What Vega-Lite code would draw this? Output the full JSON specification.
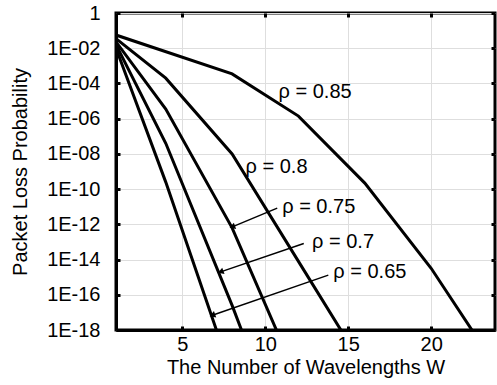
{
  "$schema": "https://vega.github.io/schema/vega-lite/v6.json",
  "width": 379,
  "height": 317,
  "autosize": {"type": "none"},
  "padding": {"left": 116, "top": 13, "right": 2, "bottom": 55},
  "background": "white",
  "config": {
    "view": {"stroke": "black", "strokeWidth": 3},
    "font": "Liberation Sans",
    "axis": {
      "labelFont": "Liberation Sans",
      "titleFont": "Liberation Sans",
      "labelFontSize": 20,
      "titleFontSize": 20,
      "titleFontWeight": "normal",
      "labelColor": "black",
      "titleColor": "black",
      "domainColor": "black",
      "domainWidth": 3,
      "tickColor": "black",
      "tickWidth": 3,
      "tickSize": -4,
      "gridColor": "#dedede",
      "gridWidth": 1
    }
  },
  "datasets": {
    "curves": [
      {"rho": "0.85", "W": 1, "P": 5.6e-2},
      {"rho": "0.85", "W": 8, "P": 3.5e-4},
      {"rho": "0.85", "W": 12, "P": 1.4e-6},
      {"rho": "0.85", "W": 16, "P": 2.2e-10},
      {"rho": "0.85", "W": 20, "P": 3.2e-15},
      {"rho": "0.85", "W": 24, "P": 6.3e-21},
      {"rho": "0.8", "W": 1, "P": 3.5e-2},
      {"rho": "0.8", "W": 4, "P": 2.0e-4},
      {"rho": "0.8", "W": 8, "P": 1.0e-8},
      {"rho": "0.8", "W": 12, "P": 7.9e-15},
      {"rho": "0.8", "W": 16, "P": 6.3e-21},
      {"rho": "0.75", "W": 1, "P": 2.3e-2},
      {"rho": "0.75", "W": 4, "P": 3.5e-6},
      {"rho": "0.75", "W": 8, "P": 6.3e-13},
      {"rho": "0.75", "W": 12, "P": 1.3e-21},
      {"rho": "0.7", "W": 1, "P": 1.6e-2},
      {"rho": "0.7", "W": 4, "P": 4.0e-8},
      {"rho": "0.7", "W": 8, "P": 2.5e-17},
      {"rho": "0.7", "W": 12, "P": 3.2e-27},
      {"rho": "0.65", "W": 1, "P": 1.0e-2},
      {"rho": "0.65", "W": 4, "P": 2.5e-10},
      {"rho": "0.65", "W": 8, "P": 2.5e-21}
    ],
    "labels": [
      {"label": "ρ = 0.85", "x": 10.8, "y": 3.2e-5},
      {"label": "ρ = 0.8", "x": 8.81, "y": 1.8e-9},
      {"label": "ρ = 0.75", "x": 11.02, "y": 1.0e-11},
      {"label": "ρ = 0.7", "x": 12.82, "y": 1.05e-13},
      {"label": "ρ = 0.65", "x": 14.1, "y": 2.0e-15}
    ],
    "arrows": [
      {"x1": 10.72, "y1": 8.3e-12, "x2": 8.01, "y2": 7.2e-13},
      {"x1": 12.32, "y1": 8.1e-14, "x2": 7.31, "y2": 2.0e-15},
      {"x1": 13.8, "y1": 1.3e-15, "x2": 6.81, "y2": 6.9e-18}
    ]
  },
  "layer": [
    {
      "data": {"name": "curves"},
      "mark": {"type": "line", "color": "black", "strokeWidth": 3, "clip": true},
      "encoding": {
        "x": {
          "field": "W", "type": "quantitative",
          "scale": {"domain": [1, 23.85], "nice": false, "zero": false},
          "axis": {"orient": "bottom", "values": [5, 10, 15, 20], "title": "The Number of Wavelengths W", "labelPadding": 8, "titlePadding": 3, "grid": true}
        },
        "y": {
          "field": "P", "type": "quantitative",
          "scale": {"type": "log", "domain": [1e-18, 1], "nice": false},
          "axis": {
            "orient": "left",
            "values": [1, 1e-2, 1e-4, 1e-6, 1e-8, 1e-10, 1e-12, 1e-14, 1e-16, 1e-18],
            "labelExpr": "datum.value >= 0.5 ? '1' : '1E-' + (round(-log(datum.value)/LN10) < 10 ? '0' : '') + round(-log(datum.value)/LN10)",
            "title": "Packet Loss Probability",
            "labelPadding": 20,
            "titlePadding": 16,
            "grid": true
          }
        },
        "detail": {"field": "rho"}
      }
    },
    {
      "data": {"name": "labels"},
      "mark": {"type": "text", "align": "left", "baseline": "middle", "fontSize": 20, "font": "Liberation Sans", "color": "black"},
      "encoding": {
        "x": {"field": "x", "type": "quantitative", "axis": null},
        "y": {"field": "y", "type": "quantitative", "axis": null},
        "text": {"field": "label"}
      }
    },
    {
      "data": {"name": "arrows"},
      "mark": {"type": "rule", "color": "black", "strokeWidth": 1.5},
      "encoding": {
        "x": {"field": "x1", "type": "quantitative", "axis": null},
        "y": {"field": "y1", "type": "quantitative", "axis": null},
        "x2": {"field": "x2"},
        "y2": {"field": "y2"}
      }
    },
    {
      "data": {"name": "arrows"},
      "mark": {"type": "point", "shape": "triangle-left", "filled": true, "color": "black", "size": 45, "angle": -20, "opacity": 1},
      "encoding": {
        "x": {"field": "x2", "type": "quantitative", "axis": {"orient": "top", "values": [5, 10, 15, 20], "labels": false, "title": null, "grid": false, "domain": false}},
        "y": {"field": "y2", "type": "quantitative", "axis": {"orient": "right", "values": [1, 1e-2, 1e-4, 1e-6, 1e-8, 1e-10, 1e-12, 1e-14, 1e-16, 1e-18], "labels": false, "title": null, "grid": false, "domain": false}}
      }
    }
  ],
  "resolve": {"axis": {"x": "independent", "y": "independent"}}
}
